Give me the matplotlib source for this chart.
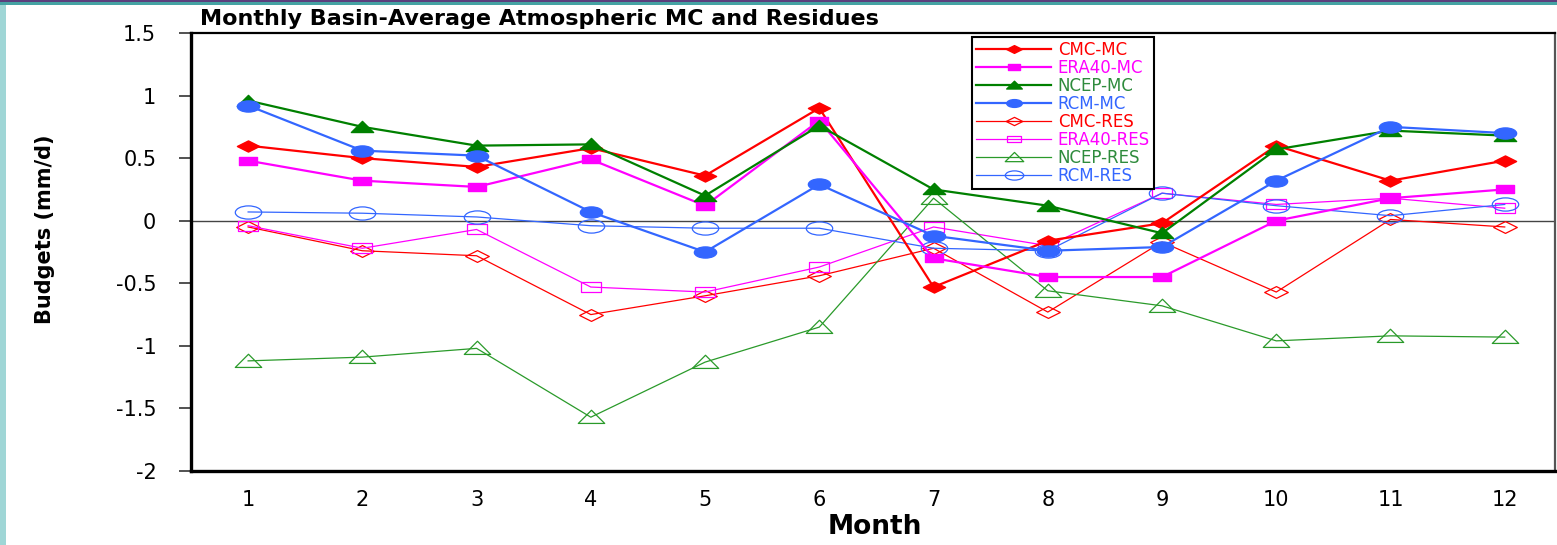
import numpy as np
import matplotlib
matplotlib.use("Agg")
import matplotlib.pyplot as plt
from matplotlib.path import Path
from matplotlib.patches import Rectangle

# ---------------- data ----------------
months = [1, 2, 3, 4, 5, 6, 7, 8, 9, 10, 11, 12]
month_labels = ["1", "2", "3", "4", "5", "6", "7", "8", "9", "10", "11", "12"]

cmc_mc   = [0.60, 0.50, 0.43, 0.58, 0.36, 0.90, -0.53, -0.16, -0.02, 0.60, 0.32, 0.48]
era40_mc = [0.48, 0.32, 0.27, 0.49, 0.12, 0.80, -0.30, -0.45, -0.45, 0.00, 0.18, 0.25]
ncep_mc  = [0.96, 0.75, 0.60, 0.61, 0.20, 0.76, 0.25, 0.12, -0.10, 0.57, 0.72, 0.68]
rcm_mc   = [0.92, 0.56, 0.52, 0.07, -0.25, 0.29, -0.12, -0.24, -0.21, 0.32, 0.75, 0.70]

cmc_res   = [-0.05, -0.24, -0.28, -0.75, -0.60, -0.44, -0.22, -0.73, -0.17, -0.57, 0.01, -0.05]
era40_res = [-0.04, -0.22, -0.07, -0.53, -0.57, -0.37, -0.05, -0.20, 0.22, 0.13, 0.18, 0.10]
ncep_res  = [-1.12, -1.09, -1.02, -1.57, -1.13, -0.85, 0.18, -0.56, -0.68, -0.96, -0.92, -0.93]
rcm_res   = [0.07, 0.06, 0.03, -0.04, -0.06, -0.06, -0.22, -0.24, 0.22, 0.12, 0.04, 0.13]

y_ticks = [-2, -1.5, -1, -0.5, 0, 0.5, 1, 1.5]
y_tick_labels = ["-2", "-1.5", "-1", "-0.5", "0", "0.5", "1", "1.5"]

# ---------------- stretched marker shapes ----------------
def closed(verts):
    v = list(verts) + [verts[0]]
    codes = [Path.MOVETO] + [Path.LINETO] * (len(verts) - 1) + [Path.CLOSEPOLY]
    return Path(v, codes)

diamond = closed([(0, 1), (2, 0), (0, -1), (-2, 0)])
square = closed([(-2.2, -1), (2.2, -1), (2.2, 1), (-2.2, 1)])
triangle = closed([(-2, -0.9), (2, -0.9), (0, 1.1)])
uc = Path.unit_circle()
ellipse = Path(uc.vertices * np.array([2.0, 1.0]), uc.codes)

RED = "#FF0000"
MAG = "#FF00FF"
GRN = "#008000"
GRN2 = "#2E8B3C"
BLU = "#3366FF"

W, H = 1557, 545
fig = plt.figure(figsize=(W / 100, H / 100), dpi=100)
fig.patch.set_facecolor("white")

# decorative slide border
fig.patches.append(Rectangle((0, 0), 6 / W, 1, transform=fig.transFigure,
                             facecolor="#9fd6d6", edgecolor="none", zorder=0))
fig.patches.append(Rectangle((0, 1 - 5 / H), 1, 5 / H, transform=fig.transFigure,
                             facecolor="#45a3a3", edgecolor="none", zorder=0))
fig.patches.append(Rectangle((0, 1 - 1.5 / H), 1, 1.5 / H, transform=fig.transFigure,
                             facecolor="#5b3f7d", edgecolor="none", zorder=0))

ax = fig.add_axes([191 / W, 1 - 471 / H, (1555 - 191) / W, (471 - 33) / H])

ax.axhline(0, color="#444444", lw=1.0, zorder=1)

mc_kw = dict(lw=1.6, zorder=4)
ax.plot(months, cmc_mc, color=RED, marker=diamond, ms=16, label="CMC-MC", **mc_kw)
ax.plot(months, era40_mc, color=MAG, marker=square, ms=13, label="ERA40-MC", **mc_kw)
ax.plot(months, ncep_mc, color=GRN, marker=triangle, ms=16, label="NCEP-MC", **mc_kw)
ax.plot(months, rcm_mc, color=BLU, marker=ellipse, ms=16, label="RCM-MC", **mc_kw)

res_kw = dict(lw=0.9, mfc="none", mew=0.9, zorder=3)
ax.plot(months, cmc_res, color=RED, marker=diamond, ms=17, label="CMC-RES", **res_kw)
ax.plot(months, era40_res, color=MAG, marker=square, ms=15, label="ERA40-RES", **res_kw)
ax.plot(months, ncep_res, color="#2a9a2a", marker=triangle, ms=19, label="NCEP-RES", **res_kw)
ax.plot(months, rcm_res, color=BLU, marker=ellipse, ms=19, label="RCM-RES",
        ls="-", **res_kw)

ax.set_xlim(0.5, 12.44)
ax.set_ylim(-2, 1.5)
ax.set_xticks(months)
ax.set_xticklabels(month_labels, fontsize=15, family="DejaVu Sans")
ax.set_yticks(y_ticks)
ax.set_yticklabels(y_tick_labels, fontsize=15, family="DejaVu Sans")
ax.tick_params(axis="x", length=0, pad=14)
ax.tick_params(axis="y", length=9, width=1.2, color="#333333", pad=16, direction="out")

for side in ["left", "bottom"]:
    ax.spines[side].set_linewidth(2.4)
    ax.spines[side].set_color("black")
ax.spines["top"].set_linewidth(1.6)
ax.spines["top"].set_color("black")
ax.spines["right"].set_linewidth(1.6)
ax.spines["right"].set_color("#555555")

fig.text(200 / W, 1 - 25 / H, "Monthly Basin-Average Atmospheric MC and Residues",
         fontsize=16, fontweight="bold", family="DejaVu Sans", va="baseline", ha="left")
fig.text(45 / W, 1 - 229 / H, "Budgets (mm/d)", rotation=90, fontsize=15,
         fontweight="bold", family="DejaVu Sans", va="center", ha="center")
fig.text(875 / W, 1 - 527 / H, "Month", fontsize=19, fontweight="bold",
         family="DejaVu Sans", va="center", ha="center")

leg = ax.legend(loc="upper left", bbox_to_anchor=((972 - 191) / 1364, (471 - 37) / 438),
                borderaxespad=0, frameon=True, fancybox=False, framealpha=1,
                edgecolor="black", handlelength=4.5, handletextpad=0.4,
                labelspacing=0.0, borderpad=0.25, markerscale=0.7,
                prop={"family": "DejaVu Sans", "size": 12})
leg.get_frame().set_linewidth(1.5)
text_colors = [RED, MAG, GRN2, BLU, RED, MAG, GRN2, BLU]
for t, c in zip(leg.get_texts(), text_colors):
    t.set_color(c)

fig.savefig("out.png", dpi=100, facecolor=fig.get_facecolor())
